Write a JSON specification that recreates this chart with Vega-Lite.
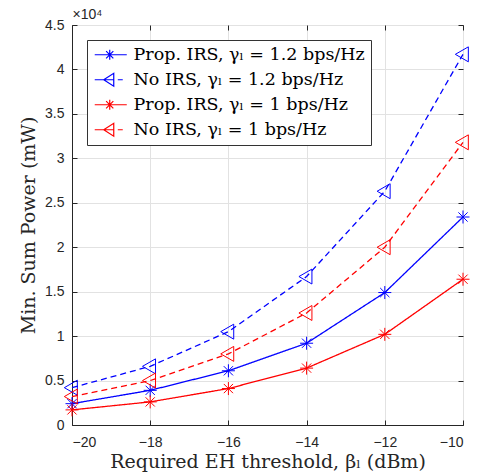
{
  "$schema": "https://vega.github.io/schema/vega-lite/v6.json",
  "width": 391,
  "height": 400,
  "autosize": {"type": "none"},
  "padding": {"left": 72, "top": 25, "right": 15, "bottom": 51},
  "background": "white",
  "config": {
    "view": {"stroke": "#262626", "strokeWidth": 1},
    "axis": {
      "labelFont": "Liberation Sans",
      "labelFontSize": 14,
      "labelColor": "#262626",
      "titleFont": "DejaVu Serif",
      "titleFontSize": 19,
      "titleFontWeight": "normal",
      "titleColor": "#262626",
      "domainColor": "#262626",
      "tickColor": "#262626",
      "tickSize": -5,
      "gridColor": "#e2e2e2",
      "gridOpacity": 1
    }
  },
  "data": {
    "values": [
      {"threshold": -20, "series": "Prop. IRS, γₗ = 1.2 bps/Hz", "power": 2400},
      {"threshold": -18, "series": "Prop. IRS, γₗ = 1.2 bps/Hz", "power": 3900},
      {"threshold": -16, "series": "Prop. IRS, γₗ = 1.2 bps/Hz", "power": 6100},
      {"threshold": -14, "series": "Prop. IRS, γₗ = 1.2 bps/Hz", "power": 9200},
      {"threshold": -12, "series": "Prop. IRS, γₗ = 1.2 bps/Hz", "power": 14900},
      {"threshold": -10, "series": "Prop. IRS, γₗ = 1.2 bps/Hz", "power": 23400},
      {"threshold": -20, "series": "No IRS, γₗ = 1.2 bps/Hz", "power": 4200},
      {"threshold": -18, "series": "No IRS, γₗ = 1.2 bps/Hz", "power": 6600},
      {"threshold": -16, "series": "No IRS, γₗ = 1.2 bps/Hz", "power": 10500},
      {"threshold": -14, "series": "No IRS, γₗ = 1.2 bps/Hz", "power": 16700},
      {"threshold": -12, "series": "No IRS, γₗ = 1.2 bps/Hz", "power": 26300},
      {"threshold": -10, "series": "No IRS, γₗ = 1.2 bps/Hz", "power": 41700},
      {"threshold": -20, "series": "Prop. IRS, γₗ = 1 bps/Hz", "power": 1700},
      {"threshold": -18, "series": "Prop. IRS, γₗ = 1 bps/Hz", "power": 2600},
      {"threshold": -16, "series": "Prop. IRS, γₗ = 1 bps/Hz", "power": 4100},
      {"threshold": -14, "series": "Prop. IRS, γₗ = 1 bps/Hz", "power": 6400},
      {"threshold": -12, "series": "Prop. IRS, γₗ = 1 bps/Hz", "power": 10200},
      {"threshold": -10, "series": "Prop. IRS, γₗ = 1 bps/Hz", "power": 16400},
      {"threshold": -20, "series": "No IRS, γₗ = 1 bps/Hz", "power": 3200},
      {"threshold": -18, "series": "No IRS, γₗ = 1 bps/Hz", "power": 5000},
      {"threshold": -16, "series": "No IRS, γₗ = 1 bps/Hz", "power": 8000},
      {"threshold": -14, "series": "No IRS, γₗ = 1 bps/Hz", "power": 12600},
      {"threshold": -12, "series": "No IRS, γₗ = 1 bps/Hz", "power": 20000},
      {"threshold": -10, "series": "No IRS, γₗ = 1 bps/Hz", "power": 31800}
    ]
  },
  "layer": [
    {
      "mark": {"type": "line", "strokeWidth": 1.3},
      "encoding": {
        "x": {
          "field": "threshold", "type": "quantitative",
          "scale": {"domain": [-20, -10], "nice": false, "zero": false},
          "axis": {"orient": "bottom", "values": [-20, -18, -16, -14, -12, -10], "title": "Required EH threshold, βₗ (dBm)", "labelPadding": 15, "titlePadding": 3}
        },
        "y": {
          "field": "power", "type": "quantitative",
          "scale": {"domain": [0, 45000], "nice": false},
          "axis": {"orient": "left", "values": [0, 5000, 10000, 15000, 20000, 25000, 30000, 35000, 40000, 45000], "labelExpr": "datum.value / 10000", "title": "Min. Sum Power (mW)", "labelPadding": 13, "titlePadding": 6}
        },
        "color": {"field": "series", "type": "nominal", "scale": {"domain": ["Prop. IRS, γₗ = 1.2 bps/Hz", "No IRS, γₗ = 1.2 bps/Hz", "Prop. IRS, γₗ = 1 bps/Hz", "No IRS, γₗ = 1 bps/Hz"], "range": ["#0000ff", "#0000ff", "#ff0000", "#ff0000"]}, "legend": null},
        "strokeDash": {"field": "series", "type": "nominal", "scale": {"domain": ["Prop. IRS, γₗ = 1.2 bps/Hz", "No IRS, γₗ = 1.2 bps/Hz", "Prop. IRS, γₗ = 1 bps/Hz", "No IRS, γₗ = 1 bps/Hz"], "range": [[1, 0], [6, 4], [1, 0], [6, 4]]}, "legend": null}
      }
    },
    {
      "mark": {"type": "point", "filled": false, "size": 169, "strokeWidth": 1, "opacity": 1},
      "encoding": {
        "x": {"field": "threshold", "type": "quantitative", "scale": {"domain": [-20, -10], "nice": false, "zero": false}, "axis": null},
        "y": {"field": "power", "type": "quantitative", "scale": {"domain": [0, 45000], "nice": false}, "axis": null},
        "color": {"field": "series", "type": "nominal", "scale": {"domain": ["Prop. IRS, γₗ = 1.2 bps/Hz", "No IRS, γₗ = 1.2 bps/Hz", "Prop. IRS, γₗ = 1 bps/Hz", "No IRS, γₗ = 1 bps/Hz"], "range": ["#0000ff", "#0000ff", "#ff0000", "#ff0000"]}, "legend": null},
        "shape": {"field": "series", "type": "nominal", "scale": {"domain": ["Prop. IRS, γₗ = 1.2 bps/Hz", "No IRS, γₗ = 1.2 bps/Hz", "Prop. IRS, γₗ = 1 bps/Hz", "No IRS, γₗ = 1 bps/Hz"], "range": ["M-1,0L1,0M0,-1L0,1M-0.71,-0.71L0.71,0.71M-0.71,0.71L0.71,-0.71", "M-1.18,0L0.82,-1.15L0.82,1.15Z", "M-1,0L1,0M0,-1L0,1M-0.71,-0.71L0.71,0.71M-0.71,0.71L0.71,-0.71", "M-1.18,0L0.82,-1.15L0.82,1.15Z"]}, "legend": null}
      }
    },
    {
      "mark": {"type": "point", "filled": false, "size": 144, "strokeWidth": 1.2, "opacity": 0},
      "encoding": {
        "x": {"field": "threshold", "type": "quantitative", "scale": {"domain": [-20, -10], "nice": false, "zero": false},
          "axis": {"orient": "top", "values": [-20, -18, -16, -14, -12, -10], "labels": false, "grid": false, "domain": false, "title": "×10⁴", "titleFont": "Liberation Sans", "titleFontSize": 14, "titleColor": "#262626", "titleAnchor": "start", "titleAlign": "left", "titlePadding": 3}},
        "y": {"field": "power", "type": "quantitative", "scale": {"domain": [0, 45000], "nice": false},
          "axis": {"orient": "right", "values": [0, 5000, 10000, 15000, 20000, 25000, 30000, 35000, 40000, 45000], "labels": false, "grid": false, "title": null, "domain": false}},
        "color": {"field": "series", "type": "nominal", "scale": {"domain": ["Prop. IRS, γₗ = 1.2 bps/Hz", "No IRS, γₗ = 1.2 bps/Hz", "Prop. IRS, γₗ = 1 bps/Hz", "No IRS, γₗ = 1 bps/Hz"], "range": ["#0000ff", "#0000ff", "#ff0000", "#ff0000"]},
          "legend": {"title": null, "orient": "top-left", "offset": 15, "padding": 6, "strokeColor": "#333333", "fillColor": "white", "labelFont": "DejaVu Serif", "labelFontSize": 17.5, "labelColor": "black", "labelLimit": 400, "labelOffset": 23, "symbolSize": 144, "symbolStrokeWidth": 1.2, "symbolOpacity": 1, "rowPadding": 6}},
        "shape": {"field": "series", "type": "nominal", "scale": {"domain": ["Prop. IRS, γₗ = 1.2 bps/Hz", "No IRS, γₗ = 1.2 bps/Hz", "Prop. IRS, γₗ = 1 bps/Hz", "No IRS, γₗ = 1 bps/Hz"], "range": ["M-1.17,0L4.17,0M1.33,-0.85L1.33,0.85M0.73,-0.6L1.93,0.6M0.73,0.6L1.93,-0.6", "M-1.17,0L2,0M2.67,0L3.5,0M0.33,0L2,-1.08L2,1.08Z", "M-1.17,0L4.17,0M1.33,-0.85L1.33,0.85M0.73,-0.6L1.93,0.6M0.73,0.6L1.93,-0.6", "M-1.17,0L2,0M2.67,0L3.5,0M0.33,0L2,-1.08L2,1.08Z"]},
          "legend": {"title": null, "orient": "top-left", "offset": 15, "padding": 6, "strokeColor": "#333333", "fillColor": "white", "labelFont": "DejaVu Serif", "labelFontSize": 17.5, "labelColor": "black", "labelLimit": 400, "labelOffset": 23, "symbolSize": 144, "symbolStrokeWidth": 1.2, "symbolOpacity": 1, "rowPadding": 6}}
      }
    }
  ],
  "resolve": {"scale": {"shape": "independent", "color": "independent"}, "axis": {"x": "independent", "y": "independent"}}
}
